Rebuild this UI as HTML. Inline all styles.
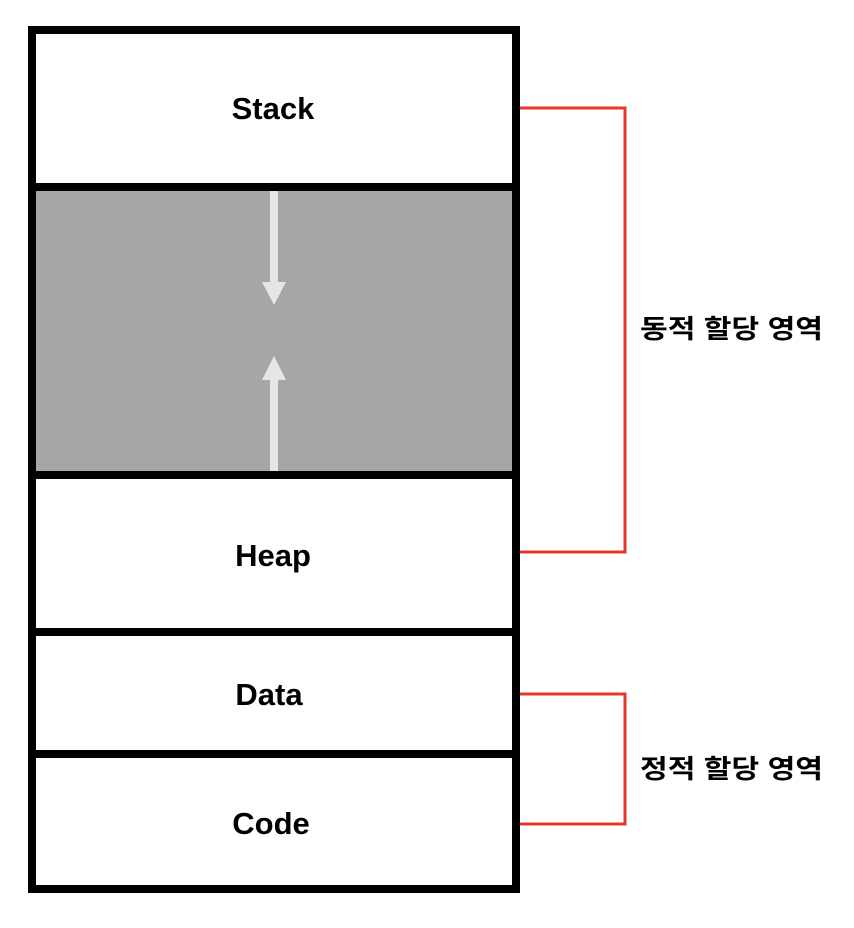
<!DOCTYPE html>
<html><head><meta charset="utf-8"><style>
html,body{margin:0;padding:0;background:#fff;}
</style></head><body>
<svg width="854" height="928" xmlns="http://www.w3.org/2000/svg" style="display:block">
<rect x="0" y="0" width="854" height="928" fill="#fff"/>
<rect x="36" y="191" width="476" height="280" fill="#a6a6a6"/>
<!-- arrows -->
<rect x="270" y="191" width="8" height="92" fill="#e6e6e6"/>
<polygon points="262,282 286,282 274,305" fill="#e6e6e6"/>
<rect x="270" y="379" width="8" height="92" fill="#e6e6e6"/>
<polygon points="262,380 286,380 274,356" fill="#e6e6e6"/>
<!-- outer box -->
<rect x="32" y="30" width="484" height="859" fill="none" stroke="#000" stroke-width="8"/>
<rect x="36" y="183" width="476" height="8" fill="#000"/>
<rect x="36" y="471" width="476" height="8" fill="#000"/>
<rect x="36" y="628" width="476" height="8" fill="#000"/>
<rect x="36" y="750" width="476" height="8" fill="#000"/>
<g font-family="Liberation Sans, sans-serif" font-weight="bold" font-size="31" text-anchor="middle" fill="#000">
<text x="273" y="119">Stack</text>
<text x="273" y="566">Heap</text>
<text x="269" y="705">Data</text>
<text x="271" y="834">Code</text>
</g>
<!-- red brackets -->
<polyline points="520,108 625,108 625,552 520,552" fill="none" stroke="#e8372a" stroke-width="3"/>
<polyline points="520,694 625,694 625,824 520,824" fill="none" stroke="#e8372a" stroke-width="3"/>
<g font-family="Liberation Sans, 'Noto Sans CJK KR', sans-serif" font-weight="bold" font-size="26" fill="#000">
<text x="640" y="338" textLength="183" lengthAdjust="spacingAndGlyphs">동적 할당 영역</text>
<text x="640" y="778" textLength="183" lengthAdjust="spacingAndGlyphs">정적 할당 영역</text>
</g>
</svg>
</body></html>
